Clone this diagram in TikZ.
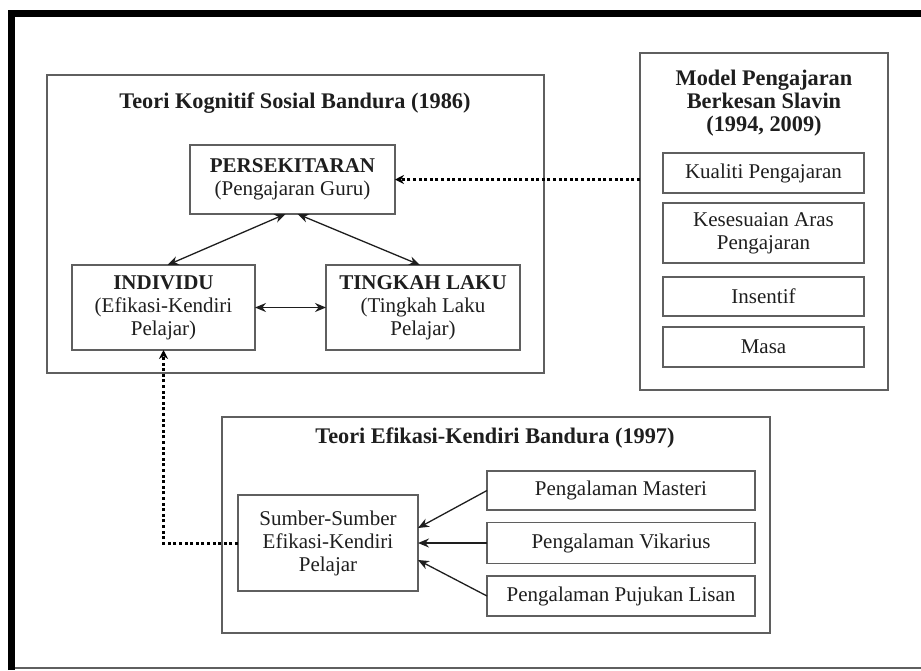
\documentclass[tikz,border=0pt]{standalone}
\usepackage{fontspec}
\setmainfont{Liberation Serif}
\usetikzlibrary{arrows.meta}

\definecolor{framegray}{RGB}{95,95,95}
\definecolor{inkblack}{RGB}{30,30,30}

\tikzset{
  box/.style={draw=framegray, line width=1.6pt, inner sep=0pt, outer sep=0pt,
    align=center, text=inkblack, font=\fontsize{21}{23}\selectfont},
  heading/.style={inner sep=0pt, align=center, text=inkblack,
    font=\fontsize{22.3}{23}\selectfont\bfseries},
  link/.style={draw=inkblack, line width=1.3pt, -{Stealth[length=11pt,width=9pt]}},
  twolink/.style={link, {Stealth[length=11pt,width=9pt]}-{Stealth[length=11pt,width=9pt]}},
  dotlink/.style={draw=black, line width=3pt, dash pattern=on 3pt off 2.6pt,
    -{Stealth[length=9pt,width=9pt]}}
}

\begin{document}
\begin{tikzpicture}[x=1pt, y=-1pt]
\useasboundingbox (0,0) rectangle (921,670);

% Bingkai luar
\draw[framegray, line width=2pt] (15,668) -- (921,668);
\draw[black, line width=7pt] (11.5,670) -- (11.5,13.5) -- (921,13.5);

% Teori Kognitif Sosial
\node[box, minimum width=497pt, minimum height=298pt] (kognitif) at (295.5,224) {};
\node[heading] (kognitiftitle) at (295,103) {Teori Kognitif Sosial Bandura (1986)};
\node[box, minimum width=205pt, minimum height=69pt] (env) at (292.5,179.5)
  {\textbf{PERSEKITARAN}\\(Pengajaran Guru)};
\node[box, minimum width=183pt, minimum height=85pt] (indiv) at (163.5,307.5)
  {\textbf{INDIVIDU}\\(Efikasi-Kendiri\\Pelajar)};
\node[box, minimum width=194pt, minimum height=85pt] (beh) at (423,307.5)
  {\textbf{TINGKAH LAKU}\\(Tingkah Laku\\Pelajar)};

\draw[twolink] ([xshift=-7pt]env.south) -- ([xshift=4pt]indiv.north);
\draw[twolink] ([xshift=5pt]env.south) -- ([xshift=-3pt]beh.north);
\draw[twolink] (indiv.east) -- (beh.west);

% Model Slavin
\node[box, minimum width=248pt, minimum height=337pt] (slavin) at (764,221.5) {};
\node[heading] (slavintitle) at (764,103) {Model Pengajaran\\Berkesan Slavin\\(1994, 2009)};
\node[box, minimum width=201pt, minimum height=40pt] (kualiti) at (763.5,173) {Kualiti Pengajaran};
\node[box, minimum width=201pt, minimum height=60pt] (aras) at (763.5,233) {Kesesuaian Aras\\Pengajaran};
\node[box, minimum width=201pt, minimum height=39pt] (insentif) at (763.5,296.5) {Insentif};
\node[box, minimum width=201pt, minimum height=40pt] (masa) at (763.5,347) {Masa};

\draw[dotlink] (slavin.west |- env.east) -- (env.east);

% Teori Efikasi-Kendiri
\node[box, minimum width=548pt, minimum height=216pt] (efikasi) at (496,525) {};
\node[heading] (efikasititle) at (495,438) {Teori Efikasi-Kendiri Bandura (1997)};
\node[box, minimum width=180pt, minimum height=96pt] (sumber) at (328,543)
  {Sumber-Sumber\\Efikasi-Kendiri\\Pelajar};
\node[box, minimum width=268pt, minimum height=39pt] (masteri) at (621,490.5) {Pengalaman Masteri};
\node[box, minimum width=268pt, minimum height=41pt] (vikarius) at (621,543) {Pengalaman Vikarius};
\node[box, minimum width=268pt, minimum height=40pt] (pujukan) at (621,596) {Pengalaman Pujukan Lisan};

\draw[link] (masteri.west) -- ([yshift=15pt]sumber.east);
\draw[link] (vikarius.west) -- (sumber.east);
\draw[link] (pujukan.west) -- ([yshift=-17pt]sumber.east);

\draw[dotlink] (sumber.west) -- (indiv.south |- sumber.west) -- (indiv.south);

\end{tikzpicture}
\end{document}
